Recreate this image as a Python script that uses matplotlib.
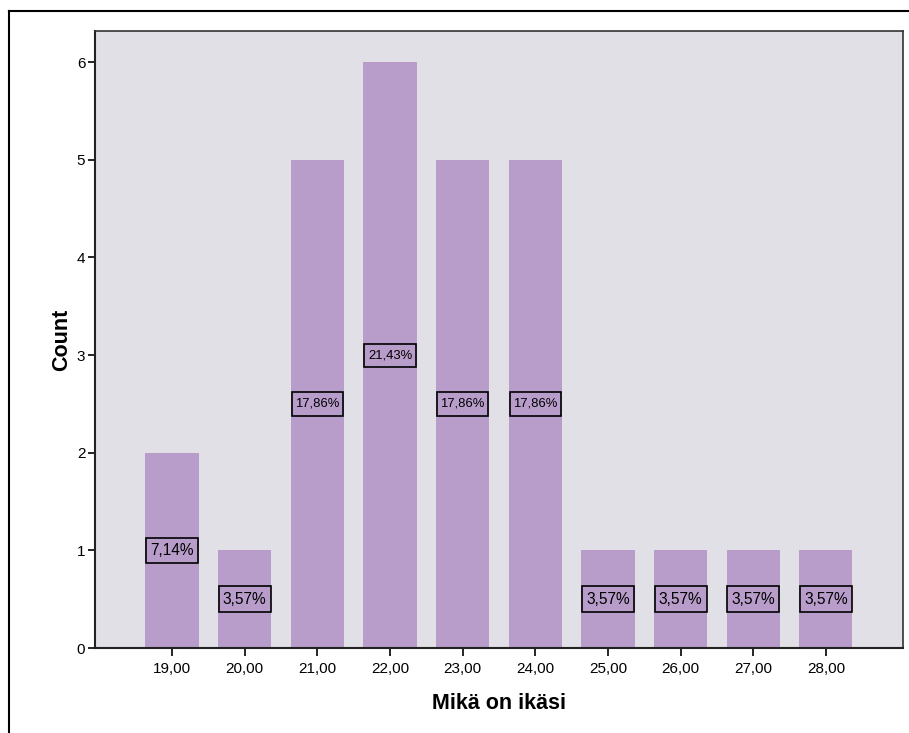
import matplotlib
matplotlib.use("Agg")
import matplotlib.pyplot as plt
from matplotlib.lines import Line2D
from matplotlib.path import Path

plt.rcParams['font.family'] = ['Liberation Sans', 'DejaVu Sans']

ages = [19, 20, 21, 22, 23, 24, 25, 26, 27, 28]
counts = [2, 1, 5, 6, 5, 5, 1, 1, 1, 1]
tick_labels = ["19,00", "20,00", "21,00", "22,00", "23,00", "24,00", "25,00", "26,00", "27,00", "28,00"]
total = sum(counts)
pct_labels = [f"{c / total * 100:.2f}%".replace(".", ",") for c in counts]

W, H = 909, 733
fig = plt.figure(figsize=(W / 100, H / 100), dpi=100)
fig.patch.set_facecolor("white")

# outer frame (cut off on right and bottom)
fig.add_artist(Line2D([9 / W, 9 / W], [0, 1 - 11 / H], transform=fig.transFigure, color="black", lw=1.5))
fig.add_artist(Line2D([9 / W, 1], [1 - 11 / H, 1 - 11 / H], transform=fig.transFigure, color="black", lw=1.5))

ax = fig.add_axes([95 / W, (H - 648) / H, (903 - 95) / W, (648 - 31) / H])
ax.set_facecolor("#E1E0E6")
bar_color = "#B89CC9"
ax.bar(ages, counts, width=0.73, color=bar_color, edgecolor="none", zorder=2)


def make_box(fx, fy):
    def label_box(x0, y0, width, height, mutation_size):
        px = fx * mutation_size
        py = fy * mutation_size
        x0, y0 = x0 - px, y0 - py
        x1, y1 = x0 + width + 2 * px, y0 + height + 2 * py
        return Path([(x0, y0), (x1, y0), (x1, y1), (x0, y1), (x0, y0)], closed=True)
    return label_box


box_small = make_box(0.26, 0.34)
box_large = make_box(0.26, 0.43)

for x, c, lab in zip(ages, counts, pct_labels):
    if len(lab) <= 5:
        fs, bs = 11.2, box_small
    else:
        fs, bs = 9.4, box_large
    ax.text(x, c / 2, lab, ha="center", va="center", fontsize=fs, zorder=3,
            bbox=dict(boxstyle=bs, facecolor=bar_color, edgecolor="black", lw=1.2))

ax.set_xlim(17.94, 29.06)
ax.set_ylim(0, 6.32)
ax.set_xticks(ages)
ax.set_xticklabels(tick_labels)
ax.set_yticks(range(0, 7))
ax.tick_params(axis="both", direction="out", labelsize=11, width=1.2, color="black")
ax.tick_params(axis="x", length=6, pad=4)
ax.tick_params(axis="y", length=5, pad=2)

for side in ["left", "bottom"]:
    ax.spines[side].set_linewidth(1.5)
    ax.spines[side].set_color("#222222")
for side in ["top", "right"]:
    ax.spines[side].set_linewidth(1.2)
    ax.spines[side].set_color("#333333")

ax.set_xlabel("Mikä on ikäsi", fontsize=15.5, fontweight="bold", labelpad=12)
ax.set_ylabel("Count", fontsize=15.5, fontweight="bold", labelpad=3)

fig.savefig("out.png", dpi=100)
